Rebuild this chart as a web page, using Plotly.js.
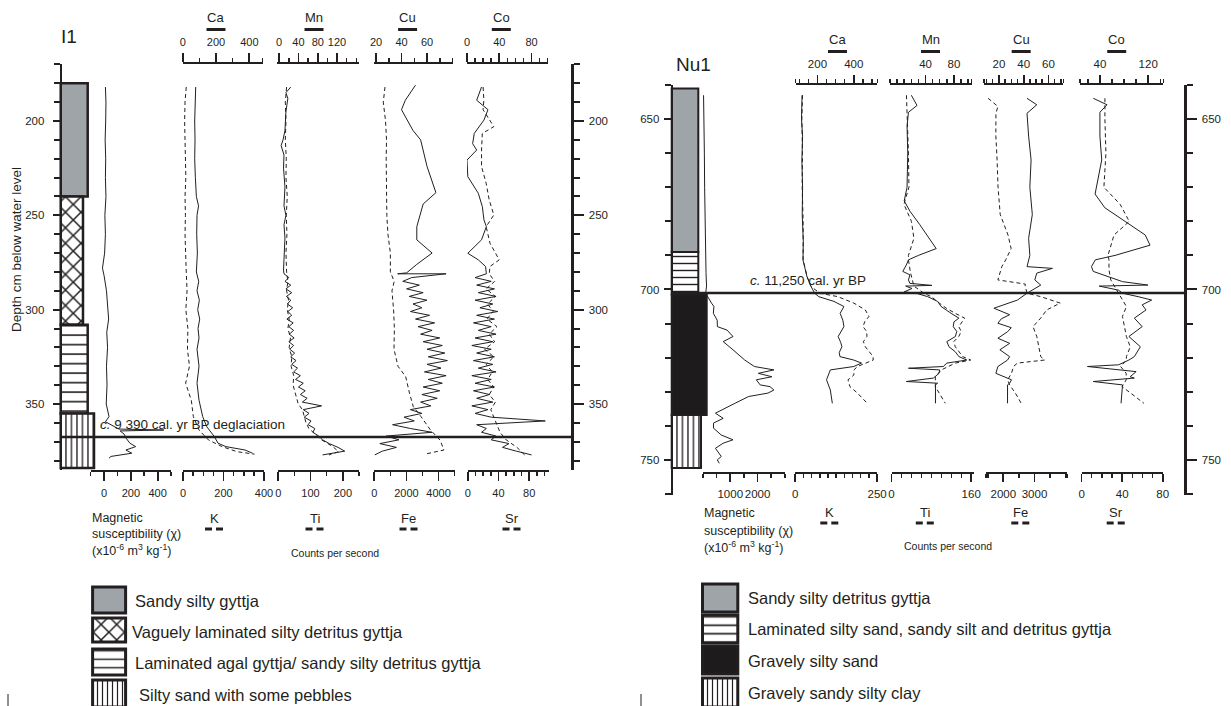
<!DOCTYPE html>
<html><head><meta charset="utf-8">
<script src="https://cdn.plot.ly/plotly-3.0.1.min.js"></script>
<style>html,body{margin:0;padding:0;background:#fff}#chart{width:1231px;height:706px}</style>
</head><body><div id="chart"></div>
<script>
// ================= DATA =================
// ---- Core I1 (depth cm) ----
const i1LithTop = [180, 240, 308, 355];
const i1LithBottom = [240, 308, 355, 384];
const i1LithNames = ['Sandy silty gyttja', 'Vaguely laminated silty detritus gyttja', 'Laminated agal gyttja/ sandy silty detritus gyttja', 'Silty sand with some pebbles'];
const i1DateDepth = [367.5];
const i1DateLabel = '<i>c.</i> 9 390 cal. yr BP deglaciation';

const i1MagDepth = [182,190,200,210,220,230,240,250,260,270,278,282,290,300,305,312,320,330,340,350,356.7,359.4,363.3,363.8,364.3,366,368,370.8,372.6,374.4,376.1,377.8,378.7];
const i1MagVal = [10,14,12,8,12,10,14,6,10,4,-12,0,18,28,34,20,26,18,22,16,37,10,110,447,120,150,163,193,236,163,207,52,37];

const i1CaDepth = [182,190,200,210,220,230,240,245,250,260,270,280,285,290,295,300,305,310,315,321,330,339,348,356.7,362,367.3,370.8,372.6,374.4,376.1];
const i1CaVal = [78,75,72,74,72,76,82,95,86,84,88,82,96,86,100,90,102,92,98,86,98,86,98,120,144,190,212,259,374,419];

const i1KDepth = [182,190,200,210,220,230,240,250,260,270,280,290,300,310,321,330,339,348,356.7,363.8,369.1,372.6,375.3,376.6];
const i1KVal = [16,10,8,10,12,14,10,12,10,12,16,20,14,24,22,32,13,41,51,79,126,193,267,353];

const i1HiResDepth = [281,283,285,287,289,291,293,295,297,299,301,303,305,307,309,311,313,315,317,319,321,323,325,327,329,331,333,335,337,339,341,343,345,347,349,351,353,355,357,359,361,363,365,367,369,371,373,375,377];

const i1MnTopDepth = [182,185,188,195,200,205,210,213,218,225,235,245,250,255,262,270,279];
const i1MnTopVal = [24,14,18,14,13,12,8,4,10,9,12,10,14,10,12,10,9];
const i1MnHiVal = [10,20,12,24,14,26,15,24,17,28,18,26,16,29,20,30,21,31,20,30,22,32,24,35,26,38,30,44,34,50,40,54,44,58,48,88,50,62,52,66,60,74,70,82,90,104,122,136,90];

const i1TiDepth = [182,190,200,210,220,230,240,250,260,270,280,285,290,295,300,305,310,315,320,325,330,335,340,345,350,353,356,360,363,365.5,369,372.6,375.3,377];
const i1TiVal = [26,22,24,22,25,24,28,25,27,24,26,30,26,32,28,34,30,38,34,42,40,48,46,55,62,75,80,86,95,110,134,169,187,157];

const i1CuTopDepth = [181,189,194,205,210,224,238,244,256,263,270,276,280.5,281];
const i1CuTopVal = [51,43,40,49,55,60,67,57,52,52,64,52,44,37];
const i1CuHiVal = [75,48,41,54,44,57,46,60,49,56,47,62,51,66,53,64,55,70,57,72,60,74,61,76,60,71,58,75,61,72,57,70,56,68,55,63,47,56,42,50,33,47,64,28,38,23,36,25,19];

const i1FeDepth = [182,190,200,210,220,230,240,250,260,270,280,285,290,300,310,321,330,335.5,344.3,351.4,356.7,363.8,369.1,374.4,376.6];
const i1FeVal = [666,560,700,760,740,760,770,780,850,1000,1000,1240,1100,1200,1250,1226,1475,1955,2192,2428,2908,3500,4090,4340,3144];

const i1CoTopDepth = [182,189,194,199.5,206.6,212,215.4,220.7,229.5,238.3,245.4,252.4,256,263,270.1,273.6,277.1];
const i1CoTopVal = [18,12,26,21,9,7,12,0,1,14,19,21,24,18,1,14,23];
const i1CoHiVal = [24,10,30,12,34,14,36,10,32,16,38,12,34,8,30,14,36,10,32,6,30,12,34,8,32,14,36,6,30,10,34,8,28,12,32,6,26,10,30,97,12,24,18,36,30,52,44,61,80];

const i1SrDepth = [182,189,194,203,206.6,215.4,224.2,233,241.9,249.8,256,264.8,273.6,277.1,281,285,289,293,297,301,305,309,313,317,321,325,329,333,337,341,345,349,353,357,361,365,369,373,377];
const i1SrVal = [20,21,20,34,19,18,18,24,28,34,24,29,41,29,28,35,24,36,26,33,25,38,28,35,22,34,24,32,26,34,28,36,30,34,38,42,50,64,74];

// ---- Core Nu1 (depth cm) ----
const nuLithTop = [641, 689, 701.5, 736.8];
const nuLithBottom = [689, 701.5, 736.8, 752.4];
const nuLithNames = ['Sandy silty detritus gyttja', 'Laminated silty sand, sandy silt and detritus gyttja', 'Gravely silty sand', 'Gravely sandy silty clay'];
const nuDateDepth = [701];
const nuDateLabel = '<i>c.</i> 11,250 cal. yr BP';

const nuMagDepth = [643,650,660,670,680,690,695,699,701.1,704,705,707,709,710.9,711.9,713.8,715.3,717.7,719.7,720.7,722.6,723.6,724.6,725.6,726.5,728,728.5,729.5,730.4,731.4,733.4,734.8,736.3,737.8,739.2,740.7,742.7,744.1,745.1,746.6,748,749,750,751];
const nuMagVal = [20,40,50,60,70,90,110,130,99,312,400,380,520,528,880,1100,740,1100,1386,1530,1885,2600,2028,2527,1955,2097,2457,2600,2383,1673,1170,814,455,740,385,385,670,1100,740,455,597,670,525,597];

const nuCaDepth = [643,650,655,662,670,678,686,691.3,696.2,699.1,701.1,702.1,703.5,705,707,709,710.9,712.5,713.8,715.5,716.8,718.5,719.7,720.7,721.6,722.6,723.6,726.5,729.5,733.4];
const nuCaVal = [115,112,118,114,118,116,122,120,142,164,185,207,291,346,325,340,346,330,314,328,335,320,324,400,443,400,271,250,271,282];

const nuKDepth = [643,650,660,670,680,691.3,696.2,699.1,701.1,702.1,704,706,707.9,709.5,710.9,712.3,713.8,715.3,716.8,718.3,719.7,720.7,722.6,723.6,725.1,726.5,728.5,730.4,733.4];
const nuKVal = [22,20,22,21,24,24,36,48,75,130,179,214,225,212,207,218,219,208,214,226,238,238,190,179,179,161,167,190,220];

const nuMnDepth = [643,646,648,652,660,670,674,677,681,685,688,690,691.3,692.8,694.7,695.7,697.2,698.2,698.8,699.0,699.7,700.7,701.1,702.1,703.5,705,706,707,708.4,709.5,710.9,712.3,713.8,715.3,716.8,718.3,719.7,720.7,721.6,722.6,723.1,723.6,724.6,726,727,727.5,728,733.4];
const nuMnVal = [20,28,16,14,15,14,10,18,32,45,55,30,16,13,8,18,16,18,49,12,21,10,27,43,57,62,70,76,87,80,79,84,82,70,73,82,87,98,70,65,16,60,59,51,13,57,54,54];

const nuTiDepth = [643,650,660,670,675,680,685,690,691.3,695,697.2,699,701.1,702.1,704,705.5,707,708.4,710.9,712.3,713.8,715.3,716.8,718.3,719.7,720.7,721.6,723.6,725.6,728.5,730.4,733.4];
const nuTiVal = [30,32,34,35,25,40,45,34,34,38,42,45,65,80,96,110,128,147,135,140,135,125,128,135,143,159,128,100,88,88,96,108];

const nuCuDepth = [643.9,645.8,648.3,655,662,670,678,685,690,691.3,693.3,693.8,695.2,697.2,698.7,701.1,703.1,705.5,707.4,708.6,709.9,711.2,712.4,714.3,715.8,717.7,719.7,720.7,722.6,724.6,726.5,727.5,728,733.4];
const nuCuVal = [42.7,50.6,42.7,44,46,45,47,44,45,44.3,42.7,63.2,50.6,49,53.8,42.7,35,16,28.7,22,19.2,30,27,19.2,28.7,20.8,28.7,27,19.2,17.6,30.2,28.7,27,27];

const nuFeDepth = [643.9,646.3,648.3,655,662,670,678,684,688,690,691.3,693.3,695.7,697.2,698.4,699.1,701.1,702.1,704,706,708.4,710.9,713.8,716.8,719.7,720.7,721.6,722.6,724.6,726.5,728,730.4,733.4];
const nuFeVal = [1511,1826,1762,1760,1800,1830,1900,2150,2250,2150,2076,1951,1887,1826,2702,2702,2763,3200,3826,3389,3200,2952,3074,3138,3200,3325,2452,2326,2262,2137,2201,2387,2574];

const nuCoDepth = [643.9,645.8,648,655,662,668,672,676,680,684,687,690,691.3,693.3,694.7,696.2,697.7,698.7,699,700.2,701.1,702.1,703.1,704.5,706,708.4,710.9,713.8,716.8,719.7,720.7,722.1,722.6,724.1,725.6,726,727,728,733.4];
const nuCoVal = [29,51.7,40,40,43,37,32,48,81,115,123,65,32.4,26,29,55,77.4,119.5,38.8,71,77.4,103.3,125.8,110,116.4,97,110,88,107,97,88,71,19.4,100,90,97,29,77.4,75];

const nuSrDepth = [643.9,650,660,670,675,680,684,690,691.3,694.2,697.2,699.1,701.1,703.1,705,707.9,710.9,713.8,716.8,719.7,720.7,722.6,724.6,726.5,728.5,730.4,733.4];
const nuSrVal = [23,23,24,22,38,47,32,26,27,27,28.8,32.6,36.5,40.3,44.2,40.3,42.2,44.2,48,44.2,44.2,38.5,44,44,40,48,61.5];

// ---- tick labels ----
const i1DepthTicks = [200, 250, 300, 350];
const nuDepthTicks = [650, 700, 750];
const topElements = ['Ca', 'Mn', 'Cu', 'Co'];
const bottomElements = ['K', 'Ti', 'Fe', 'Sr'];

// ================= STYLE / LAYOUT =================
const W = 1231, H = 706;
const INK = '#231f20';
const SANS = '"Liberation Sans", Arial, Helvetica, sans-serif';
const fx = p => p / W, fy = p => 1 - p / H;
const seq = (a, b, s) => { const r = []; for (let v = a; v <= b + 1e-9; v += s) r.push(+v.toFixed(6)); return r; };
const minus = (arr, ex) => arr.filter(v => !ex.some(e => Math.abs(e - v) < 1e-6));

function xAx(o) {
  const a = {
    domain: [fx(o.d[0]), fx(o.d[1])], range: o.r, side: o.side, anchor: o.anchor,
    showgrid: false, zeroline: false, showline: true, linecolor: INK, linewidth: 2,
    ticks: 'outside', ticklen: o.len || 9, tickwidth: 1.8, tickcolor: INK, tickangle: 0,
    tickmode: 'array', tickvals: o.major, ticktext: o.major.map(String),
    ticklabelstandoff: o.standoff == null ? 2 : o.standoff,
    tickfont: {family: SANS, size: o.fs || 11, color: INK},
    minor: {tickmode: 'array', tickvals: minus(o.minor, o.major), ticks: 'outside', ticklen: o.mlen || 4, tickwidth: 1.5, tickcolor: INK, showgrid: false},
    fixedrange: true
  };
  if (o.anchor === 'free') a.position = o.pos;
  return a;
}
function yAx(o) {
  const a = {
    domain: [fy(o.d[1]), fy(o.d[0])], range: o.r, anchor: 'free', position: fx(o.x), side: o.side,
    showgrid: false, zeroline: false, showline: true, linecolor: INK, linewidth: 2.5,
    ticks: 'outside', ticklen: o.len || 7, tickwidth: 2, tickcolor: INK, tickangle: 0,
    tickmode: 'array', tickvals: o.major, ticktext: o.major.map(String),
    ticklabelstandoff: o.standoff == null ? 3 : o.standoff,
    tickfont: {family: SANS, size: o.fs || 11.5, color: INK},
    minor: {tickmode: 'array', tickvals: minus(o.minor, o.major), ticks: 'outside', ticklen: 6, tickwidth: 2, tickcolor: INK, showgrid: false},
    fixedrange: true
  };
  if (o.over) a.overlaying = o.over;
  return a;
}
const hidden = (d, r, anchor) => ({domain: [fx(d[0]), fx(d[1])], range: r, anchor: anchor, visible: false, fixedrange: true});

const L_TOP = 64.4, L_BOT = 470, R_TOP = 85, R_BOT = 495, R_XBOT = 473;

const layout = {
  width: W, height: H, margin: {l: 0, r: 0, t: 0, b: 0},
  paper_bgcolor: '#ffffff', plot_bgcolor: 'rgba(0,0,0,0)',
  showlegend: false, barmode: 'overlay', bargap: 0,
  font: {family: SANS, color: INK},
  // ---- I1 ----
  yaxis: yAx({d: [L_TOP, L_BOT], r: [385, 170], x: 60.7, side: 'left', major: i1DepthTicks, minor: seq(170, 380, 10), standoff: 6}),
  yaxis2: yAx({d: [L_TOP, L_BOT], r: [385, 170], x: 572, side: 'right', over: 'y', major: i1DepthTicks, minor: seq(170, 380, 10), len: 10, standoff: 3}),
  xaxis: hidden([57.7, 97.7], [-3, 37], 'y'),
  xaxis2: xAx({d: [90.7, 171], r: [-100, 500], side: 'bottom', anchor: 'y', major: [0, 200, 400], minor: seq(-100, 500, 100), standoff: 3}),
  xaxis3: xAx({d: [182.7, 262.7], r: [0, 480], side: 'top', anchor: 'y', major: [0, 200, 400], minor: [100, 300, 480], standoff: 3}),
  xaxis4: xAx({d: [183, 264], r: [0, 400], side: 'bottom', anchor: 'y', major: [0, 200, 400], minor: seq(0, 400, 50), standoff: 3}),
  xaxis5: xAx({d: [277.3, 359.3], r: [-3.9, 166.2], side: 'top', anchor: 'y', major: [0, 40, 80, 120], minor: [20, 60, 100, 140, 160], standoff: 3}),
  xaxis6: xAx({d: [278.2, 359], r: [0, 250], side: 'bottom', anchor: 'y', major: [0, 100, 200], minor: seq(0, 250, 50), standoff: 3}),
  xaxis7: xAx({d: [374.3, 453.3], r: [18.67, 80.63], side: 'top', anchor: 'y', major: [20, 40, 60], minor: [30, 50, 70, 80], standoff: 3}),
  xaxis8: xAx({d: [374.3, 454.6], r: [0, 5000], side: 'bottom', anchor: 'y', major: [0, 2000, 4000], minor: seq(0, 5000, 1000), standoff: 3}),
  xaxis9: xAx({d: [467, 547.7], r: [0, 100], side: 'top', anchor: 'y', major: [0, 40, 80], minor: seq(0, 100, 10), standoff: 3}),
  xaxis10: xAx({d: [467.7, 549.2], r: [0, 106], side: 'bottom', anchor: 'y', major: [0, 40, 80], minor: seq(0, 100, 10), standoff: 3}),
  // ---- Nu1 ----
  yaxis3: yAx({d: [R_TOP, R_BOT], r: [760.3, 640], x: 671.7, side: 'left', major: nuDepthTicks, minor: seq(640, 760, 10), standoff: 2}),
  yaxis4: yAx({d: [R_TOP, R_BOT], r: [760.3, 640], x: 1185, side: 'right', over: 'y3', major: nuDepthTicks, minor: seq(640, 760, 10), len: 10, standoff: 3}),
  xaxis11: hidden([668.7, 713.7], [-3, 42], 'y3'),
  xaxis12: xAx({d: [703, 784.8], r: [0, 3000], side: 'bottom', anchor: 'free', pos: fy(R_XBOT), major: [1000, 2000], minor: seq(0, 3000, 500), standoff: 2, fs: 11.5, len: 8}),
  xaxis13: xAx({d: [795.7, 877.3], r: [80, 530], side: 'top', anchor: 'y3', major: [200, 400], minor: [80, 100, 150, 250, 300, 350, 450, 500, 530], standoff: 2, fs: 11.5, len: 8}),
  xaxis14: xAx({d: [795.3, 877.1], r: [0, 250], side: 'bottom', anchor: 'free', pos: fy(R_XBOT), major: [0, 250], minor: seq(0, 250, 25), standoff: 2, fs: 11.5, len: 8}),
  xaxis15: xAx({d: [890, 971.7], r: [-10, 105], side: 'top', anchor: 'y3', major: [40, 80], minor: seq(-10, 100, 10).concat([105]), standoff: 2, fs: 11.5, len: 8}),
  xaxis16: xAx({d: [891.5, 973.7], r: [0, 165], side: 'bottom', anchor: 'free', pos: fy(R_XBOT), major: [0, 160], minor: seq(0, 160, 20), standoff: 2, fs: 11.5, len: 8}),
  xaxis17: xAx({d: [984, 1063.3], r: [8, 72], side: 'top', anchor: 'y3', major: [20, 40, 60], minor: seq(10, 70, 5).concat([8, 72]), standoff: 2, fs: 11.5, len: 8}),
  xaxis18: xAx({d: [986.2, 1067.2], r: [1450, 4050], side: 'bottom', anchor: 'free', pos: fy(R_XBOT), major: [2000, 3000], minor: [1450, 1500, 2500, 3500, 4000, 4050], standoff: 2, fs: 11.5, len: 8}),
  xaxis19: xAx({d: [1080, 1163.3], r: [7, 145], side: 'top', anchor: 'y3', major: [40, 120], minor: [7, 20, 60, 80, 100, 140, 145], standoff: 2, fs: 11.5, len: 8}),
  xaxis20: xAx({d: [1081.6, 1162.7], r: [0, 80], side: 'bottom', anchor: 'free', pos: fy(R_XBOT), major: [0, 40, 80], minor: seq(0, 80, 10), standoff: 2, fs: 11.5, len: 8}),
  // ---- legend swatch canvas ----
  xaxis21: {domain: [0, 1], range: [0, W], anchor: 'y5', visible: false, fixedrange: true},
  yaxis5: {domain: [0, fy(570)], range: [H, 570], anchor: 'x21', visible: false, fixedrange: true},
  shapes: [], annotations: []
};

// ================= TRACES =================
const traces = [];
function addLine(xs, ys, xa, ya, dashed) {
  traces.push({type: 'scatter', mode: 'lines', x: xs, y: ys, xaxis: xa, yaxis: ya,
    line: {color: INK, width: 1, dash: dashed ? '4px,3px' : 'solid'}, hoverinfo: 'skip'});
}
// I1
addLine(i1MagVal, i1MagDepth, 'x2', 'y', false);
addLine(i1CaVal, i1CaDepth, 'x3', 'y', false);
addLine(i1KVal, i1KDepth, 'x4', 'y', true);
addLine(i1MnTopVal.concat(i1MnHiVal), i1MnTopDepth.concat(i1HiResDepth), 'x5', 'y', false);
addLine(i1TiVal, i1TiDepth, 'x6', 'y', true);
addLine(i1CuTopVal.concat(i1CuHiVal), i1CuTopDepth.concat(i1HiResDepth), 'x7', 'y', false);
addLine(i1FeVal, i1FeDepth, 'x8', 'y', true);
addLine(i1CoTopVal.concat(i1CoHiVal), i1CoTopDepth.concat(i1HiResDepth), 'x9', 'y', false);
addLine(i1SrVal, i1SrDepth, 'x10', 'y', true);
// Nu1
addLine(nuMagVal, nuMagDepth, 'x12', 'y3', false);
addLine(nuCaVal, nuCaDepth, 'x13', 'y3', false);
addLine(nuKVal, nuKDepth, 'x14', 'y3', true);
addLine(nuMnVal, nuMnDepth, 'x15', 'y3', false);
addLine(nuTiVal, nuTiDepth, 'x16', 'y3', true);
addLine(nuCuVal, nuCuDepth, 'x17', 'y3', false);
addLine(nuFeVal, nuFeDepth, 'x18', 'y3', true);
addLine(nuCoVal, nuCoDepth, 'x19', 'y3', false);
addLine(nuSrVal, nuSrDepth, 'x20', 'y3', true);
// keep the overlaying depth axes alive
traces.push({type: 'scatter', mode: 'lines', x: [null], y: [null], xaxis: 'x', yaxis: 'y2', hoverinfo: 'skip'});
traces.push({type: 'scatter', mode: 'lines', x: [null], y: [null], xaxis: 'x11', yaxis: 'y4', hoverinfo: 'skip'});

// lithology columns (one bar trace per unit so each pattern keeps its own colours)
const GREY = '#9fa4a9', BLACK = '#1d1b1c';
const i1LithStyle = {w: [27, 22.3, 27, 33.3], color: [GREY, '#ffffff', '#ffffff', '#ffffff'], shape: ['', 'x', '-', '|'], size: [8, 11, 9.5, 5.5], solidity: [0.1, 0.26, 0.17, 0.24]};
const nuLithStyle = {w: [26.6, 26.6, 35, 29.3], color: [GREY, '#ffffff', BLACK, '#ffffff'], shape: ['', '-', '', '|'], size: [8, 7, 8, 5.5], solidity: [0.1, 0.2, 0.1, 0.24]};
function unitMarker(st, i, lw, sizeOverride) {
  const m = {color: st.color[i], line: {color: INK, width: lw}};
  if (st.shape[i]) m.pattern = {shape: st.shape[i], size: sizeOverride ? sizeOverride[i] : st.size[i], solidity: st.solidity[i], fgcolor: INK, bgcolor: '#ffffff', fillmode: 'replace'};
  return m;
}
function lithBars(top, bottom, st, xa, ya, lw) {
  top.forEach((t, i) => traces.push({type: 'bar', orientation: 'h', xaxis: xa, yaxis: ya,
    y: [(t + bottom[i]) / 2], width: [bottom[i] - t], x: [st.w[i]], base: [0], hoverinfo: 'skip',
    marker: unitMarker(st, i, lw)}));
}
lithBars(i1LithTop, i1LithBottom, i1LithStyle, 'x', 'y', 2.5);
lithBars(nuLithTop, nuLithBottom, nuLithStyle, 'x11', 'y3', 2);

// legend swatches (drawn on a pixel canvas axis pair)
const legL = {x0: 92.6, w: 33, top: [587, 618, 649, 680], bot: [613, 642, 675, 707], textX: [133, 129.5, 133, 137], textY: [601, 632, 663, 695]};
const legR = {x0: 702.5, w: 35.3, top: [584, 615, 646, 678], bot: [612, 643, 674, 707], textX: [745.7, 745.7, 745.7, 745.7], textY: [598, 629, 661, 693]};
function legendBars(lg, st, sizes) {
  lg.top.forEach((t, i) => traces.push({type: 'bar', orientation: 'h', xaxis: 'x21', yaxis: 'y5',
    y: [(t + lg.bot[i]) / 2], width: [lg.bot[i] - t], x: [lg.w], base: [lg.x0], hoverinfo: 'skip',
    marker: unitMarker(st, i, 3, sizes)}));
}
legendBars(legL, i1LithStyle, [8, 11, 8.5, 5]);
legendBars(legR, nuLithStyle, [8, 8.5, 8, 5]);

// ================= SHAPES & ANNOTATIONS =================
const S = layout.shapes, A = layout.annotations;
// dated horizons
S.push({type: 'line', xref: 'paper', yref: 'y', x0: fx(60.7), x1: fx(572), y0: i1DateDepth[0], y1: i1DateDepth[0], line: {color: INK, width: 2.5}});
S.push({type: 'line', xref: 'paper', yref: 'y3', x0: fx(671.7), x1: fx(1185), y0: nuDateDepth[0], y1: nuDateDepth[0], line: {color: INK, width: 2.5}});
function ann(text, x, y, size, opts) {
  A.push(Object.assign({text: text, xref: 'paper', yref: 'paper', x: fx(x), y: fy(y), showarrow: false,
    xanchor: 'center', yanchor: 'middle', font: {family: SANS, size: size, color: INK}}, opts || {}));
}
function bar(x0, x1, y, dashed) {
  if (!dashed) { S.push({type: 'line', xref: 'paper', yref: 'paper', x0: fx(x0), x1: fx(x1), y0: fy(y), y1: fy(y), line: {color: INK, width: 3}}); return; }
  const m = (x0 + x1) / 2;
  S.push({type: 'line', xref: 'paper', yref: 'paper', x0: fx(x0), x1: fx(m - 2), y0: fy(y), y1: fy(y), line: {color: INK, width: 3}});
  S.push({type: 'line', xref: 'paper', yref: 'paper', x0: fx(m + 2), x1: fx(x1), y0: fy(y), y1: fy(y), line: {color: INK, width: 3}});
}
// panel titles
ann('I1', 69, 37, 19);
ann('Nu1', 693, 64, 19);
ann('Depth cm below water level', 17, 250, 13.5, {textangle: -90});
// horizon labels
ann(i1DateLabel, 98, 424, 13.5, {xanchor: 'left'});
ann(nuDateLabel, 748, 280, 13.5, {xanchor: 'left'});
// element headers (solid = top axis, dashed = bottom axis)
const i1TopX = [216, 314, 407.6, 501.3], i1BotX = [214, 314.5, 408.5, 511.5];
const nuTopX = [837.5, 930.5, 1021.2, 1116.7], nuBotX = [829.3, 924.8, 1020.3, 1115.7];
topElements.forEach((e, i) => { ann(e, i1TopX[i], 17, 13); bar(i1TopX[i] - 9.5, i1TopX[i] + 9.5, 29.5, false); });
bottomElements.forEach((e, i) => { ann(e, i1BotX[i], 518, 13); bar(i1BotX[i] - 9, i1BotX[i] + 9, 529, true); });
topElements.forEach((e, i) => { ann(e, nuTopX[i], 39, 13); bar(nuTopX[i] - 9.5, nuTopX[i] + 9.5, 51.5, false); });
bottomElements.forEach((e, i) => { ann(e, nuBotX[i], 512, 13); bar(nuBotX[i] - 9, nuBotX[i] + 9, 523, true); });
// magnetic susceptibility labels
const magLines = ['Magnetic', 'susceptibility (\u03c7)', '(x10<sup>-6</sup> m<sup>3</sup> kg<sup>-1</sup>)'];
[518, 534, 550].forEach((y, i) => ann(magLines[i], 89.5, y, 12.5, {xanchor: 'left'}));
[513, 531, 547].forEach((y, i) => ann(magLines[i], 701.5, y, 12.5, {xanchor: 'left'}));
ann('Counts per second', 335, 553, 10.5);
ann('Counts per second', 948, 546, 10.5);
// legends
i1LithNames.forEach((t, i) => ann(t, legL.textX[i], legL.textY[i], 16.5, {xanchor: 'left'}));
nuLithNames.forEach((t, i) => ann(t, legR.textX[i], legR.textY[i], 16.5, {xanchor: 'left'}));
// small page marks at the bottom
S.push({type: 'line', xref: 'paper', yref: 'paper', x0: fx(8), x1: fx(8), y0: fy(694), y1: fy(706), line: {color: INK, width: 1}});
S.push({type: 'line', xref: 'paper', yref: 'paper', x0: fx(641), x1: fx(641), y0: fy(694), y1: fy(706), line: {color: INK, width: 1}});

Plotly.newPlot('chart', traces, layout, {staticPlot: true, displayModeBar: false});
</script>
</body></html>
